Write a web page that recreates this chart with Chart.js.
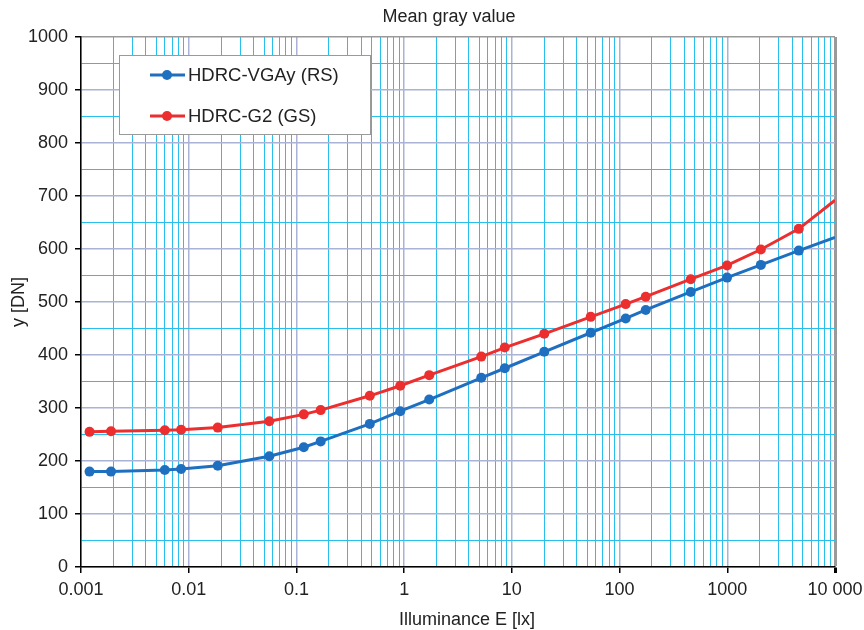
<!DOCTYPE html>
<html>
<head>
<meta charset="utf-8">
<script src="https://cdn.jsdelivr.net/npm/chart.js@4/dist/chart.umd.min.js"></script>
<style>
  html, body { margin: 0; padding: 0; background: #fff; }
  #chart { display: block; }
</style>
</head>
<body>
<canvas id="chart" width="864" height="630"></canvas>
<script>
// 照度 (lx) - 両系列共通
const illuminance = [0.0012, 0.0019, 0.006, 0.0085, 0.0186, 0.056, 0.117, 0.168, 0.48, 0.92, 1.71,
  5.2, 8.6, 20, 54, 114, 175, 458, 995, 2050, 4610, 10000];
const vgaY = [180, 180, 183, 185, 191, 209, 226, 237, 270, 294, 316,
  357, 375, 406, 442, 469, 485, 519, 546, 570, 597, 622];
const g2 = [255, 256, 258, 259, 263, 275, 288, 296, 323, 342, 362,
  397, 414, 440, 472, 496, 510, 543, 569, 599, 638, 692];
const seriesLabels = ['HDRC-VGAy (RS)', 'HDRC-G2 (GS)'];
const decadeLabels = ['0.001', '0.01', '0.1', '1', '10', '100', '1000', '10 000'];
const chartTitle = 'Mean gray value';
const xTitle = 'Illuminance E [lx]';
const yTitle = 'y [DN]';

const BLUE = '#1f6fc0';
const RED = '#ec2e2e';
const CYAN = '#29bfec';
const MAJOR = '#aab3d6';
const FONT = '"Liberation Sans", Arial, sans-serif';

function isDecade(v) {
  const l = Math.log10(v);
  return Math.abs(l - Math.round(l)) < 1e-9;
}

function toPoints(ys) {
  return illuminance.map((x, i) => ({ x: x, y: ys[i] }));
}

// 最後の点は端まで線を伸ばすだけ（マーカーなし）
const radii = illuminance.map((x, i) => i === illuminance.length - 1 ? 0 : 5);

// タイトル・x軸タイトル・凡例を描く
const overlay = {
  id: 'overlay',
  afterDraw(chart) {
    const c = chart.ctx;
    c.save();
    c.fillStyle = '#222';
    c.font = '18px ' + FONT;
    c.textAlign = 'center';
    c.textBaseline = 'middle';
    c.fillText(chartTitle, 449, 17);
    c.fillText(xTitle, 467, 620);

    // 凡例
    c.fillStyle = '#fff';
    c.fillRect(119.5, 55.5, 251, 79);
    c.strokeStyle = '#9a9a9a';
    c.lineWidth = 1;
    c.strokeRect(119.5, 55.5, 251, 79);
    c.font = '18.5px ' + FONT;
    const ys = [75, 116];
    chart.data.datasets.forEach((ds, i) => {
      const y = ys[i];
      c.strokeStyle = ds.borderColor;
      c.lineWidth = 3;
      c.beginPath();
      c.moveTo(150, y);
      c.lineTo(185, y);
      c.stroke();
      c.fillStyle = ds.borderColor;
      c.beginPath();
      c.arc(167, y, 5, 0, Math.PI * 2);
      c.fill();
      c.fillStyle = '#222';
      c.textAlign = 'left';
      c.fillText(ds.label, 188, y + 1);
    });
    c.restore();
  }
};

new Chart(document.getElementById('chart'), {
  type: 'line',
  data: {
    datasets: [
      {
        label: seriesLabels[0],
        data: toPoints(vgaY),
        borderColor: BLUE,
        backgroundColor: BLUE,
        borderWidth: 3,
        pointRadius: radii,
        pointBorderWidth: 0,
        tension: 0,
      },
      {
        label: seriesLabels[1],
        data: toPoints(g2),
        borderColor: RED,
        backgroundColor: RED,
        borderWidth: 3,
        pointRadius: radii,
        pointBorderWidth: 0,
        tension: 0,
      },
    ]
  },
  options: {
    responsive: false,
    animation: false,
    layout: { padding: { top: 37, right: 29, bottom: 0, left: 0 } },
    plugins: {
      legend: { display: false },
      title: { display: false },
      tooltip: { enabled: false },
    },
    scales: {
      x: {
        type: 'logarithmic',
        min: 0.001,
        max: 10000,
        afterBuildTicks: (scale) => {
          const ticks = [];
          for (let e = -3; e <= 4; e++) {
            for (let m = 1; m <= 9; m++) {
              const v = +(m * Math.pow(10, e)).toPrecision(6);
              if (v > 10000) break;
              ticks.push({ value: v });
            }
          }
          scale.ticks = ticks;
        },
        afterFit: (scale) => {
          scale.height = 63;
          scale.paddingRight = 0;
          scale.paddingLeft = 0;
        },
        ticks: {
          autoSkip: false,
          maxRotation: 0,
          padding: 6,
          color: '#222',
          font: { size: 18, family: FONT },
          callback: (v) => {
            if (!isDecade(v)) return '';
            return decadeLabels[Math.round(Math.log10(v)) + 3];
          },
        },
        grid: {
          color: (ctx) => {
            const v = ctx.tick && ctx.tick.value;
            if (v === undefined) return CYAN;
            if (v >= 10000) return '#9a9a9a';
            return isDecade(v) ? MAJOR : CYAN;
          },
          lineWidth: (ctx) => {
            const v = ctx.tick && ctx.tick.value;
            if (v >= 10000) return 3;
            return v !== undefined && isDecade(v) ? 1.5 : 1;
          },
          tickColor: (ctx) => {
            const v = ctx.tick && ctx.tick.value;
            return v !== undefined && isDecade(v) ? '#000' : 'rgba(0,0,0,0)';
          },
          tickLength: 6,
        },
        border: { color: '#000', width: 1.5 },
      },
      y: {
        min: 0,
        max: 1000,
        afterFit: (scale) => { scale.width = 81; },
        ticks: {
          stepSize: 50,
          autoSkip: false,
          padding: 7,
          color: '#222',
          font: { size: 18, family: FONT },
          callback: (v) => v % 100 === 0 ? v : '',
        },
        grid: {
          color: (ctx) => {
            const v = ctx.tick && ctx.tick.value;
            if (v === 1000) return '#9a9a9a';
            return v % 100 === 0 ? MAJOR : CYAN;
          },
          lineWidth: (ctx) => {
            const v = ctx.tick && ctx.tick.value;
            return v % 100 === 0 ? 1.5 : 1;
          },
          tickColor: (ctx) => {
            const v = ctx.tick && ctx.tick.value;
            return v % 100 === 0 ? '#000' : 'rgba(0,0,0,0)';
          },
          tickLength: 6,
        },
        border: { color: '#000', width: 1.5 },
        title: {
          display: true,
          text: yTitle,
          color: '#222',
          font: { size: 18, family: FONT },
          padding: { top: 8, bottom: 0 },
        },
      },
    },
  },
  plugins: [overlay],
});
</script>
</body>
</html>
